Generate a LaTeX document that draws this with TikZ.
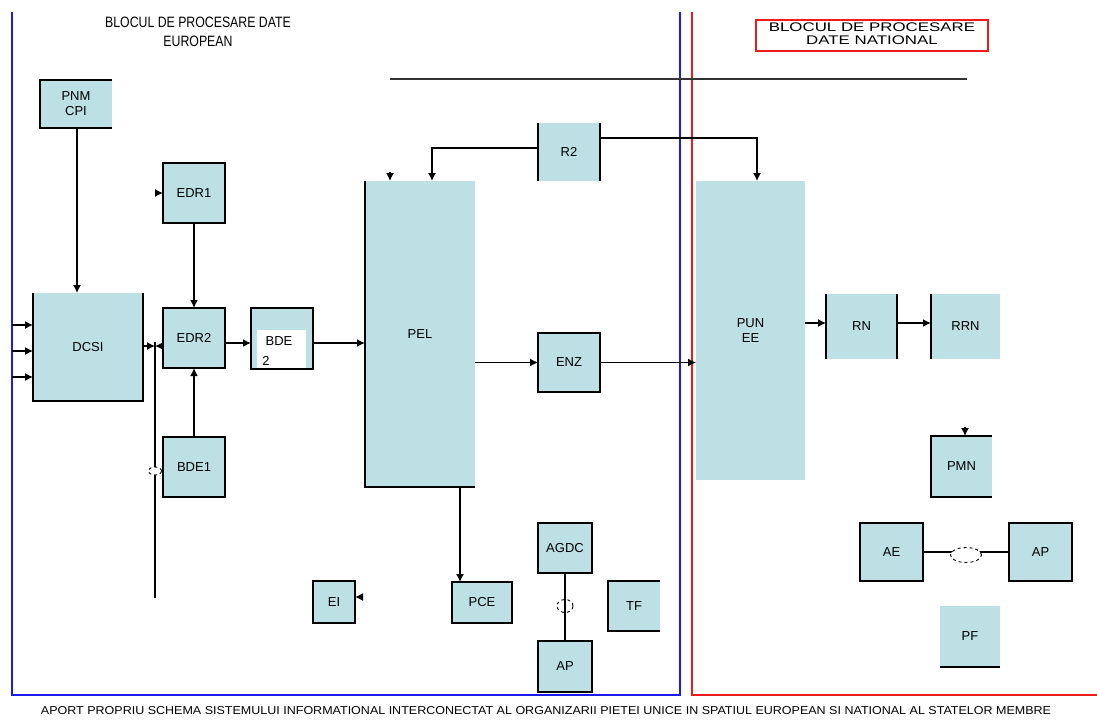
\documentclass[tikz,border=0pt]{standalone}
\usepackage{fontspec}
\setmainfont{Liberation Sans}
\usepackage{graphicx}
\usetikzlibrary{arrows.meta,calc,shapes.geometric}
\definecolor{boxfill}{HTML}{BCE0E3}
\definecolor{frameblue}{HTML}{1A1AF0}
\definecolor{framered}{HTML}{F01A1A}
\tikzset{
  box/.style={fill=boxfill, inner sep=0pt, outer sep=0pt, align=center, font=\fontsize{13}{15}\selectfont},
  bord/.style={draw=black, line width=1.6pt},
  conn/.style={draw=black, line width=1.3pt, -{Latex[length=8pt,width=8pt]}},
  thick conn/.style={draw=black, line width=2.6pt, -{Latex[length=8pt,width=8pt]}},
  plain/.style={draw=black, line width=1.3pt},
  link ellipse/.style={draw=black, dashed, line width=0.9pt, fill=white},
}
\begin{document}
\begin{tikzpicture}[x=1pt,y=-1pt]
\useasboundingbox (0,0) rectangle (1097,720);
% frames
\draw[frameblue, line width=1.5pt] (12,12) -- (12,695) -- (680,695) -- (680,12);
\draw[framered, line width=1.5pt] (692,12) -- (692,695) -- (1097,695);
\node[inner sep=0pt] (t1) at (198,33) {\scalebox{0.82}[1]{\fontsize{15}{19}\selectfont\begin{tabular}{@{}c@{}}BLOCUL DE PROCESARE DATE\\EUROPEAN\end{tabular}}};
\node[draw=framered, line width=1.4pt, minimum width=232pt, minimum height=31pt, inner sep=0pt] (t2) at (872,35.5) {\scalebox{1.35}[1]{\fontsize{12.5}{13}\selectfont\begin{tabular}{@{}c@{}}BLOCUL DE PROCESARE\\DATE NATIONAL\end{tabular}}};
\draw[line width=1.4pt, black!80] (390,79) -- (967,79);

% boxes
\node[box, minimum width=72pt, minimum height=48pt] (pnm) at (76,104) {PNM\\CPI};
\node[box, minimum width=110pt, minimum height=108pt] (dcsi) at (88,347) {DCSI};
\node[box, minimum width=62pt, minimum height=60pt] (edr1) at (194,193) {EDR1};
\node[box, minimum width=62pt, minimum height=60pt] (edr2) at (194,338) {EDR2};
\node[box, minimum width=62pt, minimum height=60pt] (bde1) at (194,467) {BDE1};
\node[box, minimum width=62pt, minimum height=61pt] (bde2) at (282,338.5) {};
\fill[white] (257,330) rectangle (306,368);
\node[font=\fontsize{13}{15}\selectfont, inner sep=0pt] (bde2a) at (279,341) {BDE};
\node[font=\fontsize{13}{15}\selectfont, inner sep=0pt] (bde2b) at (266,361) {2};
\node[box, minimum width=110pt, minimum height=306pt] (pel) at (420,334) {PEL};
\node[box, minimum width=62pt, minimum height=58pt] (r2) at (569,152) {R2};
\node[box, minimum width=62pt, minimum height=59pt] (enz) at (569,362.5) {ENZ};
\node[box, minimum width=109pt, minimum height=299pt] (punee) at (750.5,330.5) {PUN\\EE};
\node[box, minimum width=60pt, minimum height=41pt] (pce) at (482,602.5) {PCE};
\node[box, minimum width=42pt, minimum height=42pt] (ei) at (334,602) {EI};
\node[box, minimum width=54pt, minimum height=50pt] (agdc) at (565,548) {AGDC};
\node[box, minimum width=54pt, minimum height=51pt] (ap1) at (565,666.5) {AP};
\node[box, minimum width=52pt, minimum height=50pt] (tf) at (634,606) {TF};
\node[box, minimum width=71pt, minimum height=65pt] (rn) at (861.5,326.5) {RN};
\node[box, minimum width=69pt, minimum height=65pt] (rrn) at (965.5,326.5) {RRN};
\node[box, minimum width=61pt, minimum height=61pt] (pmn) at (961.5,466.5) {PMN};
\node[box, minimum width=63pt, minimum height=58pt] (ae) at (891.5,552) {AE};
\node[box, minimum width=63pt, minimum height=58pt] (ap2) at (1040.5,552) {AP};
\node[box, minimum width=60pt, minimum height=61pt] (pf) at (970,636.5) {PF};

% borders (partial where the reference shows them partial)
\draw[bord] (pnm.north east) -- (pnm.north west) -- (pnm.south west) -- (pnm.south east);
\draw[bord] (dcsi.north west) -- (dcsi.south west) -- (dcsi.south east) -- (dcsi.north east);
\draw[bord] (edr1.north west) rectangle (edr1.south east);
\draw[bord] (edr2.north west) rectangle (edr2.south east);
\draw[bord] (bde1.north west) rectangle (bde1.south east);
\draw[bord] (bde2.north west) rectangle (bde2.south east);
\draw[bord] (pel.north west) -- (pel.south west) -- (pel.south east);
\draw[bord] (r2.north west) -- (r2.south west) (r2.north east) -- (r2.south east);
\draw[bord] (enz.north west) rectangle (enz.south east);
\draw[bord] (pce.north west) rectangle (pce.south east);
\draw[bord] (ei.north west) rectangle (ei.south east);
\draw[bord] (agdc.north west) rectangle (agdc.south east);
\draw[bord] (ap1.north west) rectangle (ap1.south east);
\draw[bord] (tf.north east) -- (tf.north west) -- (tf.south west) -- (tf.south east);
\draw[bord] (rn.north west) -- (rn.south west) (rn.north east) -- (rn.south east);
\draw[bord] (rrn.north west) -- (rrn.south west);
\draw[bord] (pmn.north east) -- (pmn.north west) -- (pmn.south west) -- (pmn.south east);
\draw[bord] (ae.north west) rectangle (ae.south east);
\draw[bord] (ap2.north west) rectangle (ap2.south east);
\draw[bord] (pf.south west) -- (pf.south east);

% connectors
\draw[conn] (pnm.south -| 77,0) -- (dcsi.north -| 77,0);
\coordinate (in1) at (12,325);
\coordinate (in2) at (12,351);
\coordinate (in3) at (12,377);
\draw[conn] (in1) -- (in1 -| dcsi.west);
\draw[conn] (in2) -- (in2 -| dcsi.west);
\draw[conn] (in3) -- (in3 -| dcsi.west);
\coordinate (dj) at (155,346);
\draw[conn] (dcsi.east |- dj) -- (dj);
\draw[conn] (edr2.west |- dj) -- (dj);
\coordinate (vb) at (155,598);
\draw[plain] (155,342) -- (vb);
\node[link ellipse, ellipse, minimum width=13pt, minimum height=8pt, inner sep=0pt] (e1) at (155,471) {};
\draw[thick conn] (edr1.south) -- (edr2.north);
\draw[thick conn] (bde1.north) -- (edr2.south);
\draw[thick conn] (edr2.east |- 0,343) -- (bde2.west |- 0,343);
\draw[thick conn] (bde2.east |- 0,343) -- (pel.west |- 0,343);
\coordinate (edr1in) at (159,193);
\draw[conn] (edr1in) -- (edr1.west);
\coordinate (pelst) at (390,172);
\draw[conn] (pelst) -- (pelst |- pel.north);
\draw[conn] (r2.west |- 0,148) -- (432,148) -- (432,181);
\draw[conn] (r2.east |- 0,138) -- (757,138) -- (757,181);
\draw[conn] (pel.east |- enz.west) -- (enz.west);
\draw[conn] (enz.east) -- (enz.east -| punee.west);
\draw[conn] (pel.south -| 460,0) -- (pce.north -| 460,0);
\coordinate (eist) at (363,597);
\draw[conn] (eist) -- (ei.east |- eist);
\draw[plain] (agdc.south) -- (ap1.north);
\node[link ellipse, ellipse, minimum width=16pt, minimum height=13pt, inner sep=0pt, fill=none] (e2) at (565,606) {};
\draw[conn] (punee.east |- 0,323) -- (rn.west |- 0,323);
\draw[thick conn] (rn.east |- 0,323) -- (rrn.west |- 0,323);
\coordinate (pmnst) at (965,427);
\draw[conn] (pmnst) -- (pmnst |- pmn.north);
\draw[plain] (ae.east) -- (ap2.west);
\node[link ellipse, ellipse, minimum width=31pt, minimum height=15pt, inner sep=0pt] (e3) at (966,555) {};

% caption
\node[inner sep=0pt] (cap) at (546,711) {\resizebox{1010pt}{8pt}{APORT PROPRIU SCHEMA SISTEMULUI INFORMATIONAL INTERCONECTAT AL ORGANIZARII PIETEI UNICE IN SPATIUL EUROPEAN SI NATIONAL AL STATELOR MEMBRE}};
\end{tikzpicture}
\end{document}
